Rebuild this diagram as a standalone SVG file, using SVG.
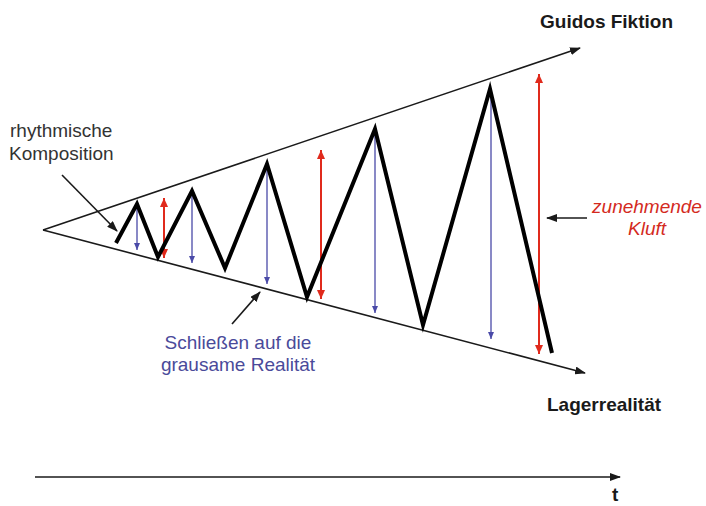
<svg xmlns="http://www.w3.org/2000/svg" width="706" height="506" viewBox="0 0 706 506">
<style>
.thin{stroke:#1a1a1a;stroke-width:1.6;fill:none}
.zig{stroke:#000;stroke-width:4;fill:none;stroke-linejoin:miter;stroke-linecap:butt}
.blue{stroke:#4a4aa8;stroke-width:1.3;fill:none}
.red{stroke:#e02a1c;stroke-width:2;fill:none}
.lbl{font-family:"Liberation Sans",Arial,sans-serif;font-size:19px;fill:#333}
.bold{font-family:"Liberation Sans",Arial,sans-serif;font-size:19px;font-weight:bold;fill:#1a1a1a}
.bl{fill:#4a4a9a}
.rd{fill:#d42a1e;font-style:italic}
</style>
<defs>
<marker id="ab" markerUnits="userSpaceOnUse" markerWidth="11" markerHeight="8" refX="10" refY="4" orient="auto"><path d="M0,0 L11,4 L0,8 z" fill="#1a1a1a"/></marker>
<marker id="abl" markerUnits="userSpaceOnUse" markerWidth="7" markerHeight="6" refX="7" refY="3" orient="auto"><path d="M0,0 L7,3 L0,6 z" fill="#4a4aa8"/></marker>
<marker id="ar" markerUnits="userSpaceOnUse" markerWidth="9" markerHeight="8" refX="9" refY="4" orient="auto-start-reverse"><path d="M0,0 L9,4 L0,8 z" fill="#e02a1c"/></marker>
</defs>
<rect width="706" height="506" fill="#fff"/>
<g id="connectors">
<line class="thin" x1="43" y1="230" x2="580" y2="48" marker-end="url(#ab)"/>
<line class="thin" x1="43" y1="230" x2="585" y2="373" marker-end="url(#ab)"/>
<line class="thin" x1="35" y1="477" x2="620" y2="477" marker-end="url(#ab)"/>
<line class="thin" x1="62" y1="175" x2="117" y2="231" marker-end="url(#ab)"/>
<line class="thin" x1="232" y1="324" x2="260" y2="292" marker-end="url(#ab)"/>
<line class="thin" x1="587" y1="218" x2="547" y2="218" marker-end="url(#ab)"/>
<line class="blue" x1="137" y1="205" x2="137" y2="250" marker-end="url(#abl)"/>
<line class="blue" x1="192" y1="192" x2="192" y2="263" marker-end="url(#abl)"/>
<line class="blue" x1="267" y1="165" x2="267" y2="284" marker-end="url(#abl)"/>
<line class="blue" x1="375" y1="131" x2="375" y2="313" marker-end="url(#abl)"/>
<line class="blue" x1="491" y1="90" x2="491" y2="339" marker-end="url(#abl)"/>
<line class="red" x1="164" y1="198" x2="164" y2="258" marker-start="url(#ar)" marker-end="url(#ar)"/>
<line class="red" x1="321" y1="150" x2="321" y2="299" marker-start="url(#ar)" marker-end="url(#ar)"/>
<line class="red" x1="539" y1="74" x2="539" y2="354" marker-start="url(#ar)" marker-end="url(#ar)"/>
<polyline class="zig" points="116,243 137,204 158,257 192,191 225,268 267,164 307,297 375,129 423,325 490,89 552,353"/>
</g>
<g id="guidos"><text class="bold" x="540" y="28">Guidos Fiktion</text></g>
<g id="lager"><text class="bold" x="547" y="411">Lagerrealität</text></g>
<g id="rhythm"><text class="lbl" x="10" y="137">rhythmische</text><text class="lbl" x="9" y="160">Komposition</text></g>
<g id="schliessen"><text class="lbl bl" x="238" y="349" text-anchor="middle">Schließen auf die</text><text class="lbl bl" x="238" y="371" text-anchor="middle">grausame Realität</text></g>
<g id="kluft"><text class="lbl rd" x="647" y="213" text-anchor="middle">zunehmende</text><text class="lbl rd" x="647" y="235" text-anchor="middle">Kluft</text></g>
<g id="time"><text class="bold" x="612" y="501">t</text></g>
</svg>
